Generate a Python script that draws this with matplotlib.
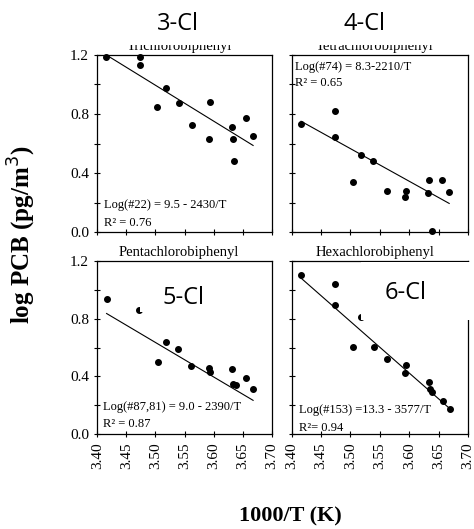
import numpy as np
import matplotlib.pyplot as plt
from matplotlib.patches import Rectangle
from matplotlib.ticker import MultipleLocator, FormatStrFormatter

plt.rcParams['font.family'] = 'Liberation Serif'

# 1000/T (K) vs log PCB (pg/m3), one set per homologue group
x_3cl = [3.415, 3.474, 3.474, 3.518, 3.503, 3.540, 3.594, 3.563, 3.593, 3.632, 3.633, 3.636, 3.655, 3.668]
y_3cl = [1.186, 1.186, 1.134, 0.978, 0.850, 0.877, 0.879, 0.723, 0.633, 0.710, 0.633, 0.481, 0.773, 0.653]

x_4cl = [3.416, 3.474, 3.474, 3.518, 3.539, 3.504, 3.562, 3.594, 3.592, 3.634, 3.632, 3.656, 3.668, 3.639]
y_4cl = [0.730, 0.822, 0.642, 0.522, 0.481, 0.341, 0.280, 0.280, 0.240, 0.354, 0.264, 0.354, 0.273, 0.009]

x_5cl = [3.416, 3.472, 3.518, 3.539, 3.504, 3.562, 3.592, 3.594, 3.632, 3.634, 3.638, 3.655, 3.668]
y_5cl = [0.934, 0.860, 0.636, 0.590, 0.502, 0.472, 0.455, 0.432, 0.451, 0.347, 0.340, 0.386, 0.310]

x_6cl = [3.415, 3.474, 3.474, 3.518, 3.505, 3.540, 3.562, 3.594, 3.592, 3.634, 3.635, 3.639, 3.657, 3.670]
y_6cl = [1.103, 1.038, 0.892, 0.809, 0.601, 0.606, 0.518, 0.479, 0.425, 0.358, 0.310, 0.289, 0.231, 0.173]

# regression: log PCB = a - b/T
fits = [(9.5, 2430), (8.3, 2210), (9.0, 2390), (13.3, 3577)]
eqs = ['Log(#22) = 9.5 - 2430/T', 'Log(#74) = 8.3-2210/T',
       'Log(#87,81) = 9.0 - 2390/T', 'Log(#153) =13.3 - 3577/T']
r2 = ['R² = 0.76', 'R² = 0.65', 'R² = 0.87', 'R²= 0.94']
titles = ['Trichlorobiphenyl', 'Tetrachlorobiphenyl', 'Pentachlorobiphenyl', 'Hexachlorobiphenyl']
tags = ['3-Cl', '4-Cl', '5-Cl', '6-Cl']

W, H = 474, 529
fig = plt.figure(figsize=(W / 100, H / 100), dpi=100)

def box(l, r, t, b):
    return [l / W, 1 - b / H, (r - l) / W, (b - t) / H]

axs = [fig.add_axes(box(97.3, 271.7, 55, 232)),
       fig.add_axes(box(291.7, 468, 55, 232)),
       fig.add_axes(box(97.3, 271.7, 261, 434)),
       fig.add_axes(box(291.7, 468, 261, 434))]

data = [(x_3cl, y_3cl), (x_4cl, y_4cl), (x_5cl, y_5cl), (x_6cl, y_6cl)]
eq_pos = [(0.04, 0.15, 0.05), (0.02, 0.93, 0.84), (0.03, 0.156, 0.058), (0.04, 0.139, 0.035)]

for i, ax in enumerate(axs):
    xs, ys = data[i]
    a, b = fits[i]
    xl = np.array([min(xs), max(xs)])
    ax.plot(xl, a - b / 1000 * xl, color='black', lw=0.8)
    ax.scatter(xs, ys, s=16, color='black', zorder=3, clip_on=False)
    ax.set_xlim(3.40, 3.70)
    ax.set_ylim(0.0, 1.2)
    ax.xaxis.set_major_locator(MultipleLocator(0.05))
    ax.yaxis.set_major_locator(MultipleLocator(0.4))
    ax.yaxis.set_minor_locator(MultipleLocator(0.2))
    ax.xaxis.set_major_formatter(FormatStrFormatter('%.2f'))
    ax.yaxis.set_major_formatter(FormatStrFormatter('%.1f'))
    ax.tick_params(which='both', direction='inout', length=5, width=0.8, labelsize=11)
    for sp in ax.spines.values():
        sp.set_linewidth(0.9)
    if i < 2:
        ax.tick_params(labelbottom=False)
    else:
        ax.tick_params(axis='x', labelrotation=90)
    if i % 2 == 1:
        ax.tick_params(labelleft=False)
    ex, ey1, ey2 = eq_pos[i]
    ax.text(ex, ey1, eqs[i], transform=ax.transAxes, fontsize=9, va='center')
    ax.text(ex, ey2, r2[i], transform=ax.transAxes, fontsize=9, va='center')
    ax.text(0.47, 1.05, titles[i], transform=ax.transAxes, fontsize=10.5,
            ha='center', va='center')

# white label boxes laid over the panels
def tag_box(l, r, t, b):
    fig.patches.append(Rectangle((l / W, 1 - b / H), (r - l) / W, (b - t) / H,
                                 transform=fig.transFigure, facecolor='white',
                                 edgecolor='none', zorder=5))

tag_box(100, 474, 0, 45)
tag_box(140, 232, 284, 312)
tag_box(361, 474, 262, 320)

tag_pos = [(178, 24), (364, 24), (184, 298), (406, 293)]
for t, (tx, ty) in zip(tags, tag_pos):
    fig.text(tx / W, 1 - ty / H, t, fontsize=17, family='Open Sans',
             ha='center', va='center', zorder=6)

fig.text(22 / W, 1 - 235 / H, 'log PCB (pg/m$^3$)', rotation=90, fontsize=18,
         fontweight='bold', ha='center', va='center')
fig.text(290 / W, 1 - 516 / H, '1000/T (K)', fontsize=16, fontweight='bold',
         ha='center', va='center')

fig.savefig('out.png', dpi=100)
